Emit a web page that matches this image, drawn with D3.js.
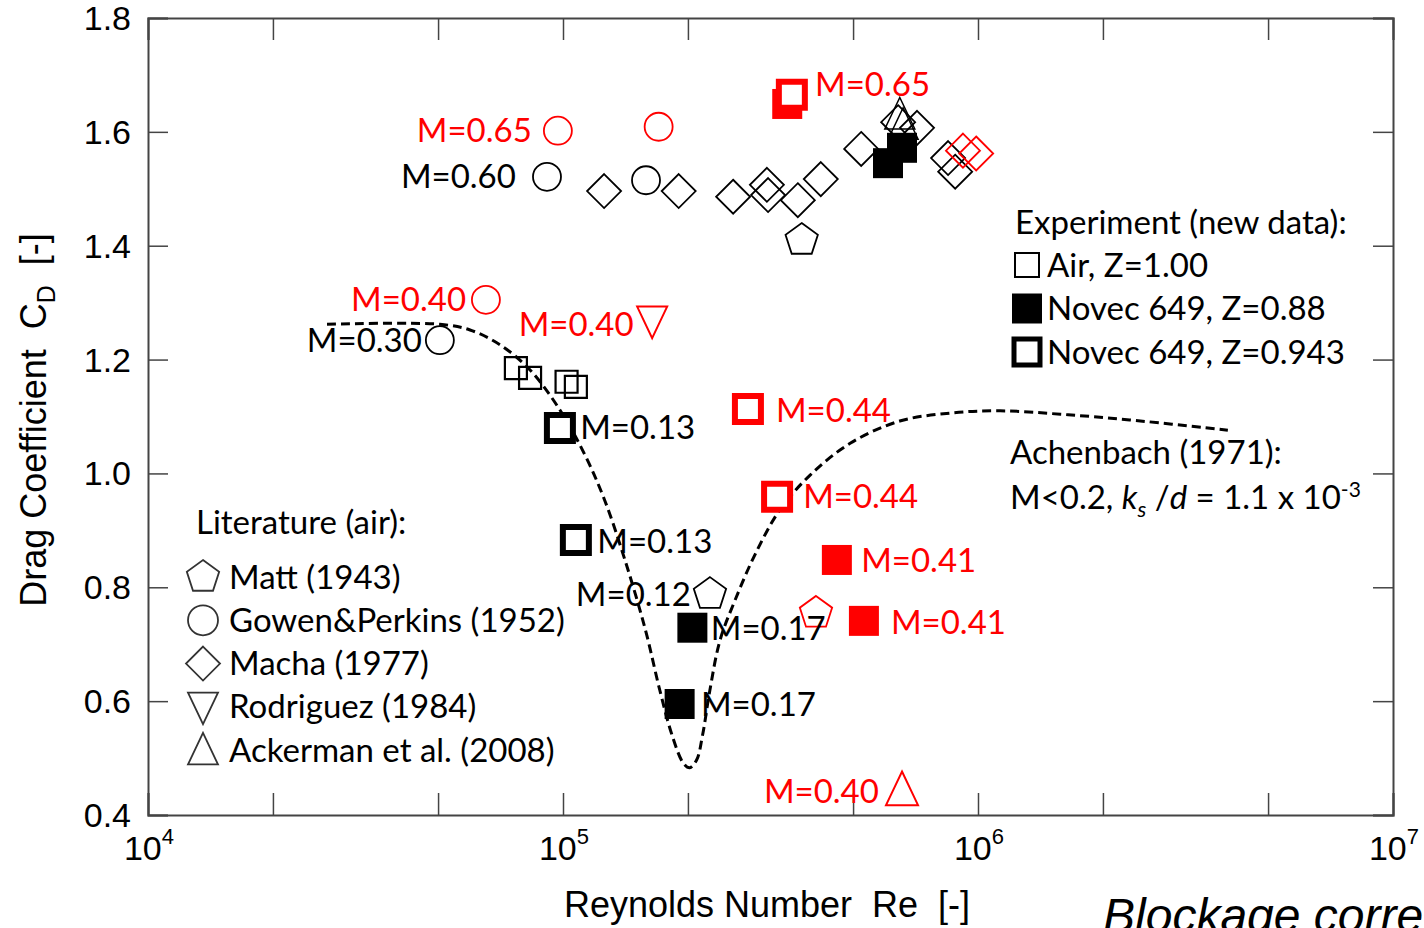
<!DOCTYPE html>
<html>
<head>
<meta charset="utf-8">
<script src="https://cdn.jsdelivr.net/npm/d3@7"></script>
<style>
  body { margin: 0; background: #fff; }
  text { white-space: pre; }
</style>
</head>
<body>
<svg id="chart"></svg>
<script>
// ---- Axis ticks ----
const reTicks = [1e4, 2e4, 5e4, 1e5, 2e5, 5e5, 1e6, 2e6, 5e6, 1e7];
const reDecades = [1e4, 1e5, 1e6, 1e7];
const cdTicks = [0.4, 0.6, 0.8, 1.0, 1.2, 1.4, 1.6, 1.8];

// ---- Literature (air) [Re, Cd] ----
const mattBlack = [[3.76e5, 1.410], [2.26e5, 0.788]];
const mattRed = [[4.07e5, 0.755]];
const gowenBlack = [[9.15e4, 1.521], [1.585e5, 1.515], [5.05e4, 1.234]];
const gowenRed = [[9.72e4, 1.602], [1.70e5, 1.609], [6.52e4, 1.305]];
const machaBlack = [[1.256e5, 1.496], [1.90e5, 1.496], [2.57e5, 1.486], [3.10e5, 1.507], [3.12e5, 1.489],
  [3.68e5, 1.480], [4.18e5, 1.517], [5.23e5, 1.570], [6.42e5, 1.617], [7.13e5, 1.607], [8.47e5, 1.554], [8.81e5, 1.530]];
const machaRed = [[9.20e5, 1.567], [9.90e5, 1.562]];
const rodriguezRed = [[1.64e5, 1.268]];
const ackermanBlack = [[6.48e5, 1.630], [6.60e5, 1.612]];
const ackermanRed = [[6.56e5, 0.444]];

// ---- Experiment (new data) ----
const airZ100 = [[7.70e4, 1.185], [8.33e4, 1.168], [1.02e5, 1.161], [1.074e5, 1.152]];
const novecZ088 = [[6.07e5, 1.545], [6.56e5, 1.572], [2.05e5, 0.729], [1.91e5, 0.595]];
const novecZ088Red = [[3.47e5, 1.649], [4.57e5, 0.848], [5.31e5, 0.741]];
const novecZ0943 = [[9.83e4, 1.080], [1.074e5, 0.883]];
const novecZ0943Red = [[3.56e5, 1.665], [2.79e5, 1.113], [3.28e5, 0.959]];

// ---- Achenbach (1971) curve ----
const achRe = [2.70e4, 5.05e4, 5.97e4, 7.05e4, 8.32e4, 9.84e4, 1.13e5, 1.26e5, 1.41e5, 1.58e5, 1.71e5, 1.83e5,
  1.95e5, 2.02e5, 2.10e5, 2.17e5, 2.26e5, 2.39e5, 2.60e5, 2.90e5, 3.33e5, 3.94e5, 4.92e5, 6.48e5, 8.57e5,
  1.13e6, 1.58e6, 2.32e6, 4.00e6];
const achCd = [1.262, 1.262, 1.252, 1.226, 1.182, 1.111, 1.032, 0.953, 0.848, 0.725, 0.620, 0.541,
  0.491, 0.483, 0.497, 0.541, 0.620, 0.707, 0.778, 0.857, 0.936, 0.997, 1.053, 1.092, 1.106,
  1.110, 1.104, 1.094, 1.076];

// ---- Mach number annotations ----
const labelText = ["M=0.65", "M=0.60", "M=0.40", "M=0.30", "M=0.40", "M=0.65", "M=0.13", "M=0.13",
  "M=0.44", "M=0.44", "M=0.41", "M=0.41", "M=0.12", "M=0.17", "M=0.17", "M=0.40"];
const labelRe = [8.41e4, 7.70e4, 5.84e4, 4.57e4, 1.48e5, 4.05e5, 1.10e5, 1.21e5,
  3.26e5, 3.79e5, 5.23e5, 6.17e5, 1.074e5, 2.27e5, 2.15e5, 5.77e5];
const labelCd = [1.602, 1.522, 1.306, 1.233, 1.261, 1.684, 1.080, 0.880,
  1.111, 0.959, 0.848, 0.739, 0.788, 0.727, 0.595, 0.442];
const labelRed = [1, 0, 1, 0, 1, 1, 0, 0, 1, 1, 1, 1, 0, 0, 0, 1];
const labelEnd = [1, 1, 1, 1, 1, 0, 0, 0, 0, 0, 0, 0, 0, 0, 0, 1];

const RED = "#ff0000";
const INK = "#000";
const ANN_FONT = "Lato, 'Open Sans', sans-serif";
const AX_FONT = "'Liberation Sans', Arial, sans-serif";
const ANN_SIZE = "33px";

const width = 1424, height = 928;
const svg = d3.select("#chart").attr("width", width).attr("height", height);

const x = d3.scaleLog().domain([1e4, 1e7]).range([148, 1393]);
const y = d3.scaleLinear().domain([0.4, 1.8]).range([815, 18]);

// Marker shapes centred on 0,0
function shapePath(type, s) {
  switch (type) {
    case "circle":
      return `M${s},0A${s},${s} 0 1,1 ${-s},0A${s},${s} 0 1,1 ${s},0Z`;
    case "square":
      return `M${-s},${-s}H${s}V${s}H${-s}Z`;
    case "diamond":
      return `M0,${-s}L${s},0L0,${s}L${-s},0Z`;
    case "pentagon": {
      const pts = d3.range(5).map(k => {
        const a = -Math.PI / 2 + k * 2 * Math.PI / 5;
        return [s * Math.cos(a), s * Math.sin(a)];
      });
      return "M" + pts.map(p => p.join(",")).join("L") + "Z";
    }
    case "triUp":
      return `M0,${-s * 1.15}L${s},${s * 0.95}L${-s},${s * 0.95}Z`;
    case "triDown":
      return `M0,${s * 1.15}L${s},${-s * 0.95}L${-s},${-s * 0.95}Z`;
  }
}

// ---- Frame & ticks ----
const frame = svg.append("g");
frame.append("g").attr("transform", "translate(0,815)")
  .call(d3.axisBottom(x).tickValues(reTicks).tickSize(-22).tickFormat(""));
frame.append("g").attr("transform", "translate(0,18)")
  .call(d3.axisTop(x).tickValues(reTicks).tickSize(-22).tickFormat(""));
frame.append("g").attr("transform", "translate(148,0)")
  .call(d3.axisLeft(y).tickValues(cdTicks).tickSize(-20).tickFormat(""));
frame.append("g").attr("transform", "translate(1393,0)")
  .call(d3.axisRight(y).tickValues(cdTicks).tickSize(-20).tickFormat(""));
frame.selectAll(".domain").attr("stroke", "#444").attr("stroke-width", 2);
frame.selectAll(".tick line").attr("stroke", "#444").attr("stroke-width", 1.5);

// y tick labels
svg.append("g").selectAll("text")
  .data(cdTicks)
  .enter()
  .append("text")
  .attr("x", 131)
  .attr("y", d => y(d) + 12)
  .attr("text-anchor", "end")
  .style("font-family", AX_FONT)
  .style("font-size", "34px")
  .text(d => d.toFixed(1));

// x tick labels 10^n
const xl = svg.append("g").selectAll("text")
  .data(reDecades)
  .enter()
  .append("text")
  .attr("x", d => x(d) + 1)
  .attr("y", 860)
  .attr("text-anchor", "middle")
  .style("font-family", AX_FONT)
  .style("font-size", "34px");
xl.append("tspan").text("10");
xl.append("tspan").attr("dy", -16).style("font-size", "22px").text(d => Math.round(Math.log10(d)));

// axis titles
svg.append("text")
  .attr("x", 767).attr("y", 917)
  .attr("text-anchor", "middle")
  .style("font-family", AX_FONT).style("font-size", "36px")
  .text("Reynolds Number  Re  [-]");

const yt = svg.append("text")
  .attr("transform", "translate(46,420) rotate(-90)")
  .attr("text-anchor", "middle")
  .style("font-family", AX_FONT).style("font-size", "36px");
yt.append("tspan").text("Drag Coefficient  C");
yt.append("tspan").attr("dy", 9).style("font-size", "25px").text("D");
yt.append("tspan").attr("dy", -9).text("  [-]");

svg.append("text")
  .attr("x", 1103).attr("y", 932)
  .style("font-family", AX_FONT).style("font-size", "48px").style("font-style", "italic")
  .text("Blockage correction");

// ---- Achenbach curve ----
const line = d3.line().x(d => x(d[0])).y(d => y(d[1])).curve(d3.curveCatmullRom.alpha(0.5));
svg.append("path")
  .datum(achRe.map((r, i) => [r, achCd[i]]))
  .attr("d", line)
  .attr("fill", "none")
  .attr("stroke", INK)
  .attr("stroke-width", 3)
  .attr("stroke-dasharray", "9,5");

// ---- Markers ----
const series = [
  { data: machaBlack, shape: "diamond", size: 17, stroke: INK, fill: "none", sw: 1.8 },
  { data: machaRed, shape: "diamond", size: 17, stroke: RED, fill: "none", sw: 1.8 },
  { data: mattBlack, shape: "pentagon", size: 17, stroke: INK, fill: "none", sw: 1.8 },
  { data: mattRed, shape: "pentagon", size: 17, stroke: RED, fill: "none", sw: 1.8 },
  { data: gowenBlack, shape: "circle", size: 14, stroke: INK, fill: "none", sw: 1.8 },
  { data: gowenRed, shape: "circle", size: 14, stroke: RED, fill: "none", sw: 1.8 },
  { data: rodriguezRed, shape: "triDown", size: 15, stroke: RED, fill: "none", sw: 2 },
  { data: ackermanBlack, shape: "triUp", size: 15, stroke: INK, fill: "none", sw: 1.5 },
  { data: ackermanRed, shape: "triUp", size: 16, stroke: RED, fill: "none", sw: 2 },
  { data: airZ100, shape: "square", size: 11, stroke: INK, fill: "none", sw: 2.2 },
  { data: novecZ088, shape: "square", size: 15, stroke: "none", fill: INK, sw: 0 },
  { data: novecZ088Red, shape: "square", size: 15, stroke: "none", fill: RED, sw: 0 },
  { data: novecZ0943, shape: "square", size: 13, stroke: INK, fill: "#fff", sw: 6 },
  { data: novecZ0943Red, shape: "square", size: 13, stroke: RED, fill: "#fff", sw: 6 }
];

series.forEach(s => {
  svg.append("g").selectAll("path")
    .data(s.data)
    .enter()
    .append("path")
    .attr("transform", d => `translate(${x(d[0])},${y(d[1])})`)
    .attr("d", shapePath(s.shape, s.size))
    .attr("fill", s.fill)
    .attr("stroke", s.stroke)
    .attr("stroke-width", s.sw);
});

// ---- Mach annotations ----
svg.append("g").selectAll("text")
  .data(labelText)
  .enter()
  .append("text")
  .attr("x", (d, i) => x(labelRe[i]))
  .attr("y", (d, i) => y(labelCd[i]))
  .attr("dy", "0.35em")
  .attr("text-anchor", (d, i) => labelEnd[i] ? "end" : "start")
  .attr("fill", (d, i) => labelRed[i] ? RED : INK)
  .style("font-family", ANN_FONT)
  .style("font-size", ANN_SIZE)
  .text(d => d);

// ---- Legend: experiment ----
const expLegend = svg.append("g").style("font-family", ANN_FONT).style("font-size", ANN_SIZE);
expLegend.append("text").attr("x", 1015).attr("y", 222).attr("dy", "0.35em").text("Experiment (new data):");
const expItems = [
  { label: "Air, Z=1.00", size: 12, fill: "none", stroke: INK, sw: 2 },
  { label: "Novec 649, Z=0.88", size: 15, fill: INK, stroke: "none", sw: 0 },
  { label: "Novec 649, Z=0.943", size: 13, fill: "#fff", stroke: INK, sw: 5 }
];
expItems.forEach((d, i) => {
  const cy = 265 + i * 43.5;
  expLegend.append("path")
    .attr("transform", `translate(1027,${cy})`)
    .attr("d", shapePath("square", d.size))
    .attr("fill", d.fill).attr("stroke", d.stroke).attr("stroke-width", d.sw);
  expLegend.append("text").attr("x", 1047).attr("y", cy).attr("dy", "0.35em").text(d.label);
});

// Achenbach note
const ach = svg.append("g").style("font-family", ANN_FONT).style("font-size", ANN_SIZE);
ach.append("text").attr("x", 1010).attr("y", 452).attr("dy", "0.35em").text("Achenbach (1971):");
const note = ach.append("text").attr("x", 1010).attr("y", 497).attr("dy", "0.35em");
note.append("tspan").text("M<0.2, ");
note.append("tspan").style("font-style", "italic").text("k");
note.append("tspan").attr("dy", 8).style("font-size", "22px").style("font-style", "italic").text("s");
note.append("tspan").attr("dy", -8).text(" /");
note.append("tspan").style("font-style", "italic").text("d");
note.append("tspan").text(" = 1.1 x 10");
note.append("tspan").attr("dy", -12).style("font-size", "21px").text("-3");

// ---- Legend: literature ----
const litLegend = svg.append("g").style("font-family", ANN_FONT).style("font-size", ANN_SIZE);
litLegend.append("text").attr("x", 196).attr("y", 522).attr("dy", "0.35em").text("Literature (air):");
const litItems = [
  { label: "Matt (1943)", shape: "pentagon", size: 17 },
  { label: "Gowen&Perkins (1952)", shape: "circle", size: 15 },
  { label: "Macha (1977)", shape: "diamond", size: 17 },
  { label: "Rodriguez (1984)", shape: "triDown", size: 15 },
  { label: "Ackerman et al. (2008)", shape: "triUp", size: 15 }
];
litItems.forEach((d, i) => {
  const cy = 577 + i * 43.3;
  litLegend.append("path")
    .attr("transform", `translate(203,${cy})`)
    .attr("d", shapePath(d.shape, d.size))
    .attr("fill", "none").attr("stroke", "#333").attr("stroke-width", 1.8);
  litLegend.append("text").attr("x", 229).attr("y", cy).attr("dy", "0.35em").text(d.label);
});
</script>
</body>
</html>
